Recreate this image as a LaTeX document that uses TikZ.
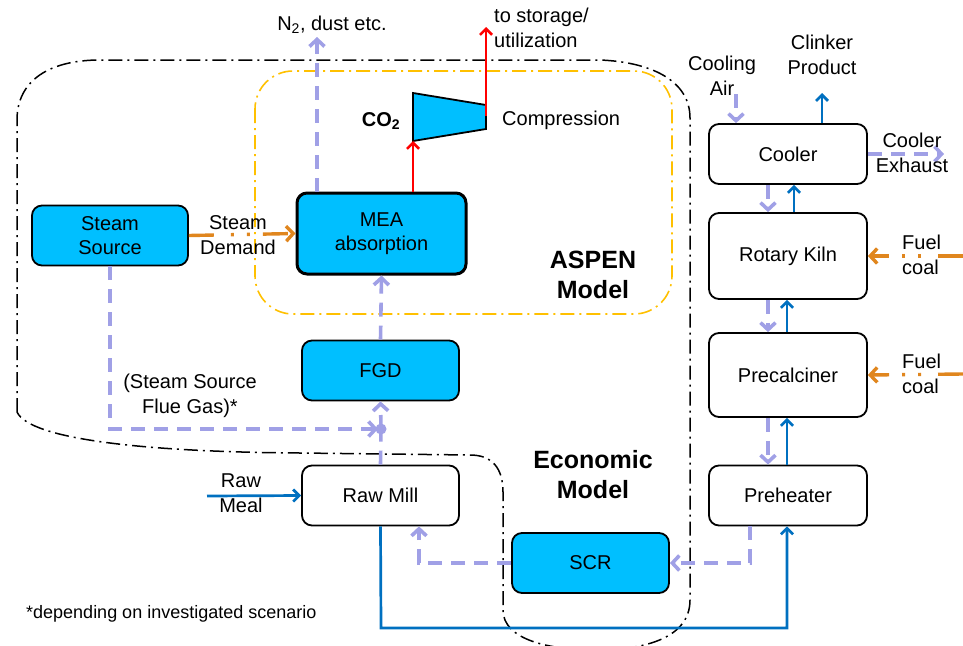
\documentclass[tikz,border=0pt]{standalone}
\usepackage{fontspec}
\setmainfont{Liberation Sans}
\usetikzlibrary{arrows.meta}
\definecolor{cyanfill}{RGB}{0,191,255}
\definecolor{lav}{RGB}{160,160,230}
\definecolor{flowblue}{RGB}{0,112,192}
\definecolor{fuelorange}{RGB}{224,134,30}
\definecolor{aspenyellow}{RGB}{255,192,0}
\begin{document}
\begin{tikzpicture}[x=1pt,y=-1pt,
  box/.style={draw=black, line width=1.8pt, rounded corners=10pt, inner sep=0pt,
    font=\fontsize{20}{24}\selectfont, align=center},
  unitbox/.style={box, fill=white},
  cbox/.style={box, fill=cyanfill},
  lbl/.style={font=\fontsize{20}{25}\selectfont, align=center, inner sep=0pt},
  bigbold/.style={font=\fontsize{25}{30}\selectfont\bfseries, align=center, inner sep=0pt},
  gasflow/.style={draw=lav, line width=3.6pt, dash pattern=on 14pt off 9pt},
  gasarrow/.style={gasflow, -{Straight Barb[length=7pt,width=15pt]}},
  solidarrow/.style={line width=2.7pt, -{Straight Barb[length=6pt,width=12pt]}},
  matflow/.style={draw=flowblue, solidarrow},
  fuelflow/.style={draw=fuelorange, line width=3.4pt,
    dash pattern=on 25pt off 17pt on 3pt off 13pt on 3pt off 13pt,
    -{Straight Barb[length=7pt,width=15pt]}},
  co2flow/.style={draw=red, line width=2.6pt, -{Straight Barb[length=6pt,width=12pt]}},
  econline/.style={draw=black, line width=1.5pt, dash pattern=on 14pt off 5pt on 2pt off 5pt},
  aspenline/.style={draw=aspenyellow, line width=1.6pt, dash pattern=on 14pt off 5pt on 2pt off 5pt}
]
\useasboundingbox (0,0) rectangle (963,645);

% boundaries
\draw[aspenline, rounded corners=38pt] (255,71) rectangle (672,314);
\draw[econline] (17,412) -- (17,120) .. controls (17,80) and (50,60) .. (100,60)
  -- (600,60) .. controls (650,62) and (690,80) .. (690,118)
  -- (690,600) .. controls (690,640) and (640,650) .. (596,650)
  .. controls (550,650) and (503,640) .. (503,610)
  -- (503,492) .. controls (503,468) and (492,455) .. (470,455)
  -- (300,453) .. controls (150,452) and (30,440) .. (17,412);

% nodes
\node[cbox, minimum width=156pt, minimum height=60pt] (steam) at (110,235.5) {Steam\\Source};
\node[cbox, line width=3pt, minimum width=169pt, minimum height=81pt] (mea) at (381.5,233.5) {MEA\\absorption};
\node[cbox, minimum width=157pt, minimum height=60pt] (fgd) at (380.5,370.5) {FGD};
\node[unitbox, minimum width=157pt, minimum height=60pt] (rawmill) at (380.5,495.5) {Raw Mill};
\node[cbox, minimum width=157pt, minimum height=60pt] (scr) at (590.5,563) {SCR};
\node[unitbox, minimum width=158pt, minimum height=60pt] (cooler) at (788,154) {Cooler};
\node[unitbox, minimum width=158pt, minimum height=86pt] (kiln) at (788,256) {Rotary Kiln};
\node[unitbox, minimum width=158pt, minimum height=84pt] (precalc) at (788,375) {Precalciner};
\node[unitbox, minimum width=158pt, minimum height=60pt] (preheat) at (788,495.5) {Preheater};

% compressor
\coordinate (ctl) at (413,93);
\coordinate (ctr) at (486,105);
\coordinate (cbr) at (486,129);
\coordinate (cbl) at (413,141);
\draw[fill=cyanfill, line width=1.8pt, line join=miter] (ctl) -- (ctr) -- (cbr) -- (cbl) -- cycle;
\coordinate (cout) at (486,116);

% helper coordinates
\coordinate (xn) at (317,0);
\coordinate (xco) at (413,0);
\coordinate (xss) at (110,0);
\coordinate (xrm) at (419,0);
\coordinate (xph) at (750,0);
\coordinate (xl) at (768,0);
\coordinate (xb) at (787,0);
\coordinate (xbt) at (794,0);
\coordinate (xca) at (736,0);
\coordinate (xcp) at (822,0);
\coordinate (dot) at (381,429);
\coordinate (ssdown) at (110,429);
\coordinate (n2end) at (317,37);
\coordinate (storage) at (486,27);
\coordinate (airstart) at (736,94);
\coordinate (clinkerend) at (822,93);
\coordinate (exhaustend) at (944,154);
\coordinate (fuel1) at (963,256);
\coordinate (fuel2) at (963,374);
\coordinate (mealstart) at (207,496);
\coordinate (scrbend) at (750,563);
\coordinate (rmbend) at (419,563);
\coordinate (blc) at (381,628);
\coordinate (brc) at (787,628);

% flows
\draw[gasarrow] (mea.north -| xn) -- (n2end);
\draw[co2flow] (mea.north -| xco) -- (cbl);
\draw[co2flow] (cout) -- (storage);
\draw[fuelflow] (steam.east) -- (mea.west);
\draw[gasarrow] (fgd.north) -- (mea.south);
\draw[gasarrow] (dot) -- (fgd.south);
\draw[gasflow] (rawmill.north) -- (dot);
\draw[gasarrow] (steam.south -| xss) -- (ssdown) -- ([xshift=-3pt]dot);
\fill[lav] (dot) circle (5.5pt);
\draw[matflow] (mealstart) -- (rawmill.west);
\draw[gasarrow] (scr.west) -- (rmbend) -- (rawmill.south -| xrm);
\draw[gasarrow] (preheat.south -| xph) -- (scrbend) -- (scr.east);
\draw[matflow] (rawmill.south) -- (blc) -- (brc) -- (preheat.south -| xb);

\draw[gasarrow] (airstart) -- (cooler.north -| xca);
\draw[matflow] (cooler.north -| xcp) -- (clinkerend);
\draw[gasarrow] (cooler.east) -- (exhaustend);
\draw[gasarrow] (cooler.south -| xl) -- (kiln.north -| xl);
\draw[matflow] (kiln.north -| xbt) -- (cooler.south -| xbt);
\draw[gasarrow] (kiln.south -| xl) -- (precalc.north -| xl);
\draw[matflow] (precalc.north -| xb) -- (kiln.south -| xb);
\draw[gasarrow] (precalc.south -| xl) -- (preheat.north -| xl);
\draw[matflow] (preheat.north -| xb) -- (precalc.south -| xb);
\draw[fuelflow] (fuel1) -- (kiln.east);
\draw[fuelflow] (fuel2) -- (precalc.east);

% labels
\node[lbl] (n2lbl) at (332,25) {N\textsubscript{2}, dust etc.};
\node[lbl, anchor=west, align=left] (storelbl) at (494,28) {to storage/\\utilization};
\node[font=\fontsize{20}{24}\selectfont\bfseries, inner sep=0pt] (co2lbl) at (381,121) {CO\textsubscript{2}};
\node[lbl, anchor=west] (complbl) at (502,120) {Compression};
\node[lbl] (sdlbl) at (238,235) {Steam\\Demand};
\node[bigbold] (aspenlbl) at (593,275) {ASPEN\\Model};
\node[bigbold] (econlbl) at (593,475) {Economic\\Model};
\node[lbl] (sfglbl) at (190,396) {(Steam Source\\Flue Gas)*};
\node[lbl] (meallbl) at (241,493) {Raw\\Meal};
\node[lbl] (airlbl) at (722,76) {Cooling\\Air};
\node[lbl] (clinklbl) at (822,55) {Clinker\\Product};
\node[lbl] (exhlbl) at (912,153) {Cooler\\Exhaust};
\node[lbl, anchor=west, align=left] (fuel1lbl) at (902,255) {Fuel\\coal};
\node[lbl, anchor=west, align=left] (fuel2lbl) at (902,374) {Fuel\\coal};
\node[font=\fontsize{18}{22}\selectfont, anchor=west, inner sep=0pt] (notelbl) at (26,614) {*depending on investigated scenario};
\end{tikzpicture}
\end{document}
